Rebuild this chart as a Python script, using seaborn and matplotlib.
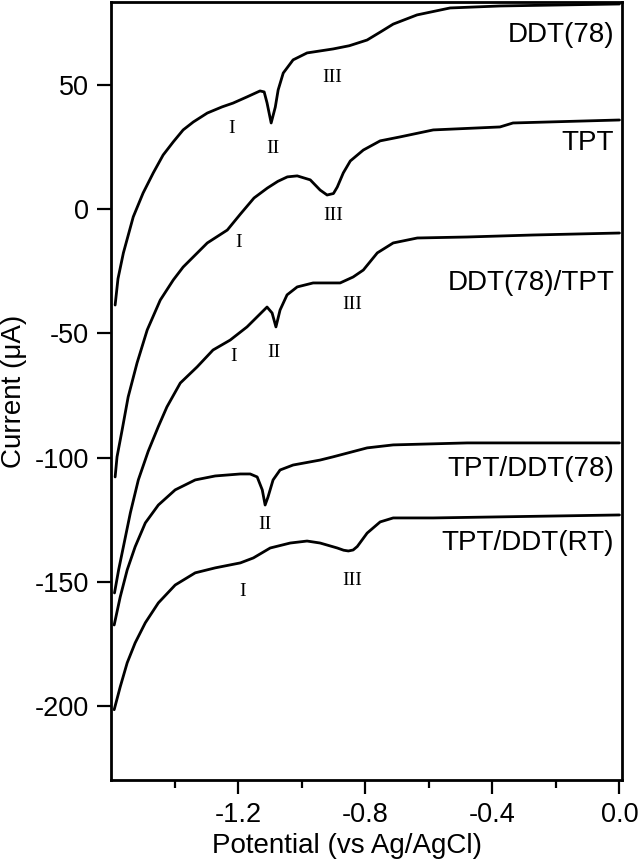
import matplotlib
matplotlib.use("Agg")
import matplotlib.pyplot as plt
import seaborn as sns

# potential (V vs Ag/AgCl) and current (uA)
ddt78_x = [-1.587, -1.578, -1.561, -1.530, -1.499, -1.467, -1.436, -1.404, -1.373, -1.341,
           -1.297, -1.250, -1.216, -1.172, -1.131, -1.118, -1.109, -1.096, -1.083, -1.074,
           -1.058, -1.027, -0.983, -0.942, -0.901, -0.850, -0.794, -0.750, -0.712, -0.637,
           -0.533, -0.376, 0.0]
ddt78_y = [-38.6, -28.0, -17.6, -3.1, 6.5, 14.6, 21.8, 27.1, 31.9, 35.1,
           38.7, 41.2, 42.7, 45.2, 47.6, 47.2, 42.8, 34.7, 41.1, 48.0,
           54.8, 60.1, 62.9, 63.7, 64.5, 65.8, 68.1, 71.5, 74.5, 78.2,
           81.0, 81.8, 82.6]

tpt_x = [-1.587, -1.581, -1.565, -1.546, -1.518, -1.486, -1.445, -1.404, -1.373, -1.297,
         -1.234, -1.193, -1.150, -1.108, -1.075, -1.045, -1.014, -0.973, -0.942, -0.920,
         -0.900, -0.888, -0.869, -0.847, -0.806, -0.753, -0.690, -0.586, -0.376, -0.335,
         0.0]
tpt_y = [-107.8, -99.7, -88.9, -75.6, -61.9, -48.6, -36.6, -28.5, -23.3, -13.6,
         -8.4, -2.0, 4.5, 8.5, 11.2, 13.0, 13.4, 11.8, 7.7, 5.7,
         6.3, 8.9, 14.6, 19.4, 23.8, 27.5, 29.1, 31.9, 33.1, 34.7,
         35.9]

ddt_tpt_x = [-1.589, -1.576, -1.561, -1.539, -1.514, -1.483, -1.451, -1.424, -1.382, -1.329,
             -1.279, -1.225, -1.172, -1.109, -1.093, -1.081, -1.068, -1.046, -1.014, -0.964,
             -0.879, -0.838, -0.806, -0.762, -0.712, -0.636, -0.479, -0.272, 0.0]
ddt_tpt_y = [-154.5, -145.2, -135.9, -122.2, -109.0, -97.5, -87.5, -79.6, -70.0, -63.5,
             -56.7, -52.7, -47.4, -39.4, -41.8, -47.4, -40.6, -34.5, -31.3, -29.7,
             -29.7, -27.3, -24.5, -17.6, -13.6, -11.6, -11.2, -10.4, -9.6]

tpt_ddt_x = [-1.590, -1.571, -1.549, -1.524, -1.492, -1.451, -1.398, -1.335, -1.272, -1.193,
             -1.162, -1.140, -1.124, -1.115, -1.106, -1.090, -1.068, -1.027, -0.942, -0.901,
             -0.794, -0.712, -0.479, 0.0]
tpt_ddt_y = [-167.4, -156.1, -145.2, -135.9, -126.3, -119.1, -113.0, -109.0, -107.4, -106.6,
             -106.6, -107.8, -113.0, -119.1, -115.9, -109.0, -105.0, -103.0, -101.0, -99.7,
             -96.1, -94.9, -94.1, -94.1]

tpt_rt_x = [-1.590, -1.571, -1.549, -1.524, -1.492, -1.451, -1.398, -1.335, -1.272, -1.193,
            -1.152, -1.099, -1.036, -0.983, -0.942, -0.888, -0.868, -0.853, -0.838, -0.825,
            -0.794, -0.753, -0.712, -0.586, 0.0]
tpt_rt_y = [-201.5, -192.3, -182.6, -174.6, -166.5, -158.5, -151.3, -146.4, -144.4, -142.4,
            -140.4, -136.4, -134.4, -133.6, -134.4, -136.4, -137.3, -137.6, -137.2, -135.8,
            -130.4, -125.9, -124.3, -124.3, -123.1]

curve_names = ["DDT(78)", "TPT", "DDT(78)/TPT", "TPT/DDT(78)", "TPT/DDT(RT)"]
curve_label_y = [70.1, 26.6, -29.7, -104.6, -134.4]

# roman numeral peak markers: (text, potential, current)
peak_text = ["I", "II", "III", "I", "III", "I", "II", "III", "II", "I", "III"]
peak_x = [-1.222, -1.090, -0.904, -1.200, -0.901, -1.215, -1.087, -0.841, -1.115, -1.187, -0.841]
peak_y = [32.3, 24.6, 53.2, -13.6, -2.7, -59.5, -57.9, -38.5, -127.1, -154.1, -149.3]

sns.set_theme(style="ticks")
plt.rcParams["font.family"] = ["Liberation Sans", "DejaVu Sans"]
plt.rcParams["axes.unicode_minus"] = False
plt.rcParams["text.color"] = "black"
plt.rcParams["axes.labelcolor"] = "black"

fig = plt.figure(figsize=(6.39, 8.63), dpi=100)
ax = fig.add_axes([111 / 639, 83 / 863, 511 / 639, 778 / 863])

curves = [(ddt78_x, ddt78_y), (tpt_x, tpt_y), (ddt_tpt_x, ddt_tpt_y),
          (tpt_ddt_x, tpt_ddt_y), (tpt_rt_x, tpt_rt_y)]
for xs, ys in curves:
    sns.lineplot(x=xs, y=ys, ax=ax, color="black", linewidth=2.0,
                 sort=False, estimator=None)

for name, ly in zip(curve_names, curve_label_y):
    ax.text(-0.016, ly, name, ha="right", va="center", fontsize=20, color="black")

for t, px, py in zip(peak_text, peak_x, peak_y):
    ax.text(px, py, t, ha="center", va="center", fontsize=14,
            family=["Liberation Serif", "DejaVu Serif"], color="black")

ax.set_xlim(-1.6, 0.008)
ax.set_ylim(-229.8, 83.4)
ax.set_xticks([-1.2, -0.8, -0.4, 0.0])
ax.set_xticklabels(["-1.2", "-0.8", "-0.4", "0.0"])
ax.set_xticks([-1.4, -1.0, -0.6, -0.2], minor=True)
ax.set_yticks([50, 0, -50, -100, -150, -200])
ax.set_yticklabels(["50", "0", "-50", "-100", "-150", "-200"])

ax.tick_params(axis="both", which="major", direction="out", length=10, width=1.6,
               labelsize=19.5, colors="black", pad=6)
ax.tick_params(axis="x", which="minor", direction="out", length=6, width=1.6,
               colors="black")

for sp in ax.spines.values():
    sp.set_linewidth(2.0)
    sp.set_color("black")
    sp.set_visible(True)

ax.set_xlabel("Potential (vs Ag/AgCl)", fontsize=20, color="black")
ax.set_ylabel("Current (\u03bcA)", fontsize=20, color="black")
ax.xaxis.set_label_coords(0.462, -0.068)
ax.yaxis.set_label_coords(-0.165, 0.5)

fig.savefig("out.png", dpi=100)
